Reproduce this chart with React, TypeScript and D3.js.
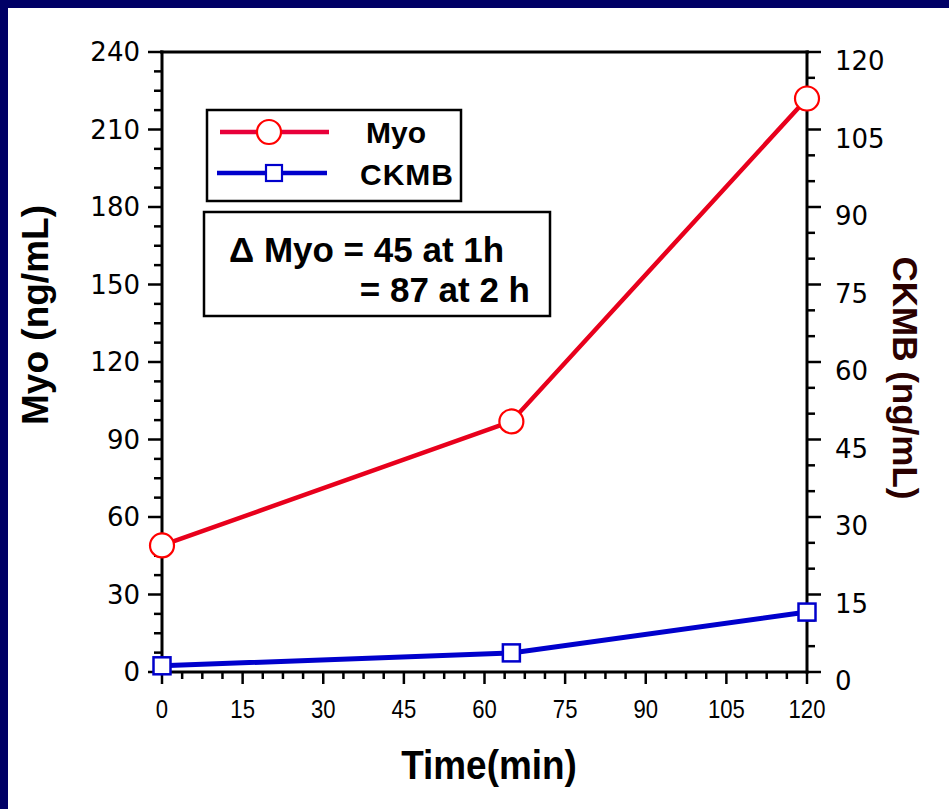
import React from "react";
import * as d3 from "d3";

const times = [0, 65, 120];
const myoValues = [49, 97, 222];
const ckmbValues = [1.2, 3.7, 11.6];
const xTicks = [0, 15, 30, 45, 60, 75, 90, 105, 120];
const leftTicks = [0, 30, 60, 90, 120, 150, 180, 210, 240];
const rightTicks = [0, 15, 30, 45, 60, 75, 90, 105, 120];
const seriesNames = ["Myo", "CKMB"];
const noteLines = ["Δ Myo = 45 at 1h", "= 87 at 2 h"];

const W = 949;
const H = 809;
const M = { left: 162, right: 807, top: 52, bottom: 672 };

export default function App() {
  const x = d3.scaleLinear().domain([0, 120]).range([M.left, M.right]);
  const yL = d3.scaleLinear().domain([0, 240]).range([M.bottom, M.top]);
  const yR = d3.scaleLinear().domain([0, 120]).range([M.bottom, M.top]);

  const myoLine = d3.line<number>().x((_, i) => x(times[i])).y((d) => yL(d));
  const ckLine = d3.line<number>().x((_, i) => x(times[i])).y((d) => yR(d));

  const xMinor = d3.range(0, 120.001, 3.75);
  const lMinor = d3.range(0, 240.001, 7.5);
  const rMinor = d3.range(0, 120.001, 5);

  const tickFont = "'DejaVu Sans', Verdana, sans-serif";
  const boldFont = "'Liberation Sans', Arial, Helvetica, sans-serif";
  const navy = "#000066";

  return (
    <svg
      width={W}
      height={H}
      style={{ position: "absolute", left: 0, top: 0, display: "block" }}
    >
      <rect x={0} y={0} width={W} height={H} fill="#ffffff" />
      <rect x={0} y={0} width={W} height={8} fill={navy} />
      <rect x={0} y={0} width={8} height={H} fill={navy} />

      {/* top frame */}
      <line x1={M.left - 2} x2={M.right + 2} y1={M.top} y2={M.top} stroke="#000" strokeWidth={3} />

      {/* left axis */}
      <line x1={M.left} x2={M.left} y1={M.top - 1.5} y2={M.bottom + 1.5} stroke="#000" strokeWidth={3} />
      {lMinor.map((v) => {
        const major = Math.abs(v % 30) < 1e-6;
        return (
          <line key={"lm" + v} x1={M.left} x2={M.left - (major ? 14 : 8)} y1={yL(v)} y2={yL(v)} stroke="#000" strokeWidth={2.5} />
        );
      })}
      {leftTicks.map((v) => (
        <text key={"lt" + v} x={M.left - 22} y={yL(v)} dy="0.36em" textAnchor="end" fontFamily={tickFont} fontSize={26} fill="#000">
          {v}
        </text>
      ))}

      {/* right axis */}
      <line x1={M.right} x2={M.right} y1={M.top - 1.5} y2={M.bottom + 1.5} stroke="#000" strokeWidth={3} />
      {rMinor.map((v) => {
        const major = Math.abs(v % 15) < 1e-6;
        return (
          <line key={"rm" + v} x1={M.right} x2={M.right + (major ? 14 : 8)} y1={yR(v)} y2={yR(v)} stroke="#000" strokeWidth={2.5} />
        );
      })}
      {rightTicks.map((v) => (
        <text key={"rt" + v} x={M.right + 28} y={yR(v) + 9} dy="0.36em" textAnchor="start" fontFamily={tickFont} fontSize={26} fill="#000">
          {v}
        </text>
      ))}

      {/* bottom axis */}
      <line x1={M.left - 1.5} x2={M.right + 1.5} y1={M.bottom} y2={M.bottom} stroke="#000" strokeWidth={3} />
      {xMinor.map((v) => {
        const major = Math.abs(v % 15) < 1e-6;
        return (
          <line key={"xm" + v} x1={x(v)} x2={x(v)} y1={M.bottom} y2={M.bottom + (major ? 12 : 7)} stroke="#000" strokeWidth={2.5} />
        );
      })}
      {xTicks.map((v) => (
        <g key={"xt" + v} transform={`translate(${x(v)},${M.bottom + 46}) scale(0.85,1)`}>
          <text x={0} y={0} textAnchor="middle" fontFamily={boldFont} fontSize={26} fill="#000">
            {v}
          </text>
        </g>
      ))}

      {/* axis titles */}
      <g transform={`translate(${489},${779}) scale(0.9,1)`}>
        <text x={0} y={0} textAnchor="middle" fontFamily={boldFont} fontWeight="bold" fontSize={41} fill="#000">
          Time(min)
        </text>
      </g>
      <text
        transform={`translate(48,${315}) rotate(-90)`}
        textAnchor="middle"
        fontFamily={boldFont}
        fontWeight="bold"
        fontSize={37}
        fill="#000"
      >
        Myo (ng/mL)
      </text>
      <text
        transform={`translate(893,${378}) rotate(90)`}
        textAnchor="middle"
        fontFamily={boldFont}
        fontWeight="bold"
        fontSize={35}
        fill="#2a0000"
      >
        CKMB (ng/mL)
      </text>

      {/* data lines */}
      <path d={ckLine(ckmbValues) || ""} fill="none" stroke="#0000cc" strokeWidth={5} />
      <path d={myoLine(myoValues) || ""} fill="none" stroke="#e8001c" strokeWidth={4.5} />
      {ckmbValues.map((v, i) => (
        <rect key={"cs" + i} x={x(times[i]) - 8.5} y={yR(v) - 8.5} width={17} height={17} fill="#fff" stroke="#0000cc" strokeWidth={2.5} />
      ))}
      {myoValues.map((v, i) => (
        <circle key={"mc" + i} cx={x(times[i])} cy={yL(v)} r={12} fill="#fff" stroke="#ff0000" strokeWidth={2.2} />
      ))}

      {/* legend */}
      <rect x={207} y={110} width={254} height={91} fill="#fff" stroke="#000" strokeWidth={2.5} />
      <line x1={220} x2={329} y1={132} y2={132} stroke="#e8003a" strokeWidth={4.5} />
      <circle cx={269} cy={132} r={12} fill="#fff" stroke="#ff0000" strokeWidth={2.2} />
      <text x={366} y={143} fontFamily={boldFont} fontWeight="bold" fontSize={30} fill="#000">
        {seriesNames[0]}
      </text>
      <line x1={217} x2={327} y1={173} y2={173} stroke="#0000cc" strokeWidth={4.5} />
      <rect x={266} y={165} width={16} height={16} fill="#fff" stroke="#0000cc" strokeWidth={2.2} />
      <text x={360} y={185} fontFamily={boldFont} fontWeight="bold" fontSize={30} fill="#000" letterSpacing={1}>
        {seriesNames[1]}
      </text>

      {/* annotation */}
      <rect x={204} y={212} width={346} height={104} fill="#fff" stroke="#000" strokeWidth={2.5} />
      <text x={229} y={262} fontFamily={boldFont} fontWeight="bold" fontSize={35} fill="#000">
        {noteLines[0]}
      </text>
      <text x={530} y={302} textAnchor="end" fontFamily={boldFont} fontWeight="bold" fontSize={35} fill="#000">
        {noteLines[1]}
      </text>
    </svg>
  );
}
